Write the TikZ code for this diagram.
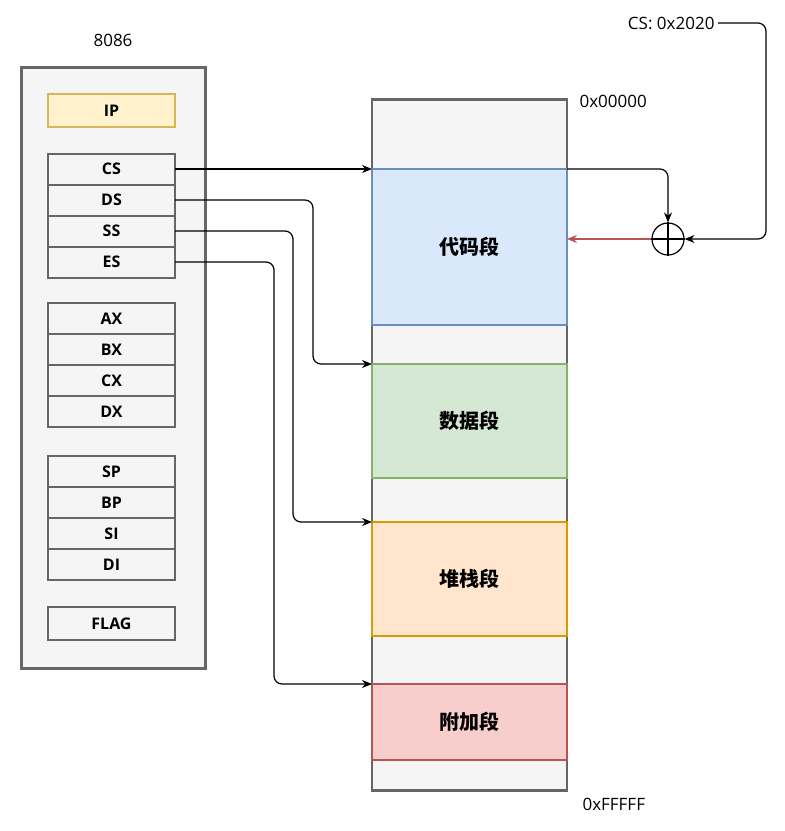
\documentclass[tikz,border=0pt]{standalone}
\usepackage{fontspec}
\setmainfont{Open Sans}
\newfontfamily\cjk{Noto Sans CJK SC}
\usetikzlibrary{arrows.meta, positioning}
\definecolor{panelgray}{HTML}{F5F5F5}
\definecolor{linegray}{HTML}{666666}
\definecolor{ipfill}{HTML}{FFF2CC}
\definecolor{ipline}{HTML}{D6B656}
\definecolor{codefill}{HTML}{DAE8FC}
\definecolor{codeline}{HTML}{6C8EBF}
\definecolor{datafill}{HTML}{D5E8D4}
\definecolor{dataline}{HTML}{82B366}
\definecolor{stackfill}{HTML}{FFE6CC}
\definecolor{stackline}{HTML}{D79B00}
\definecolor{extrafill}{HTML}{F8CECC}
\definecolor{extraline}{HTML}{B85450}
\tikzset{
	reg/.style={rectangle, draw=linegray, fill=panelgray, line width=2pt, outer sep=0pt,
		minimum width=127pt, minimum height=31pt, inner sep=0pt,
		font=\fontsize{16}{18}\selectfont\bfseries},
	seg/.style={rectangle, line width=2pt, outer sep=0pt, minimum width=195pt,
		font=\cjk\bfseries\fontsize{20}{22}\selectfont},
	arr/.style={-{Stealth[length=10pt, width=8pt]}, line width=1.2pt, rounded corners=8pt},
	redarr/.style={arr, draw=extraline, fill=extraline, line width=2pt},
	lbl/.style={font=\fontsize{17}{19}\selectfont},
}
\begin{document}
\begin{tikzpicture}[x=1pt, y=-1pt]
	\useasboundingbox (0,0) rectangle (785,831);
	% CPU registers
	\node[lbl] (title) at (113,40) {8086};
	\node[rectangle, draw=linegray, fill=panelgray, line width=2.5pt, minimum width=184pt,
		minimum height=601pt, anchor=north west] (cpu) at (20,66) {};
	\node[reg, fill=ipfill, draw=ipline, minimum height=33pt] (ip) at (111.5,110.5) {IP};
	\node[reg] (cs) at (111.5,169) {CS};
	\node[reg, below=0pt of cs] (ds) {DS};
	\node[reg, below=0pt of ds] (ss) {SS};
	\node[reg, below=0pt of ss] (es) {ES};
	\node[reg] (ax) at (111.5,318.5) {AX};
	\node[reg, below=0pt of ax] (bx) {BX};
	\node[reg, below=0pt of bx] (cx) {CX};
	\node[reg, below=0pt of cx] (dx) {DX};
	\node[reg] (sp) at (111.5,471.5) {SP};
	\node[reg, below=0pt of sp] (bp) {BP};
	\node[reg, below=0pt of bp] (si) {SI};
	\node[reg, below=0pt of si] (di) {DI};
	\node[reg, minimum height=33pt] (flag) at (111.5,623.5) {FLAG};
	
	% memory
	\node[rectangle, draw=linegray, fill=panelgray, line width=2.5pt, minimum width=195pt,
		minimum height=691pt, anchor=north] (ram) at (469.5,98) {};
	\node[seg, fill=codefill, draw=codeline, minimum height=156pt] (code) at (469.5,247) {代码段};
	\node[seg, fill=datafill, draw=dataline, minimum height=114pt] (data) at (469.5,421) {数据段};
	\node[seg, fill=stackfill, draw=stackline, minimum height=114pt] (stack) at (469.5,579) {堆栈段};
	\node[seg, fill=extrafill, draw=extraline, minimum height=76pt] (extra) at (469.5,722) {附加段};
	\node[lbl, anchor=west] (lo) at (576,101) {0x00000};
	\node[lbl, anchor=west] (hi) at (579,804) {0xFFFFF};
	
	% address adder
	\node[circle, draw, line width=1.2pt, minimum size=32pt] (sum) at (668,239) {};
	\draw[line width=1.2pt] (sum.north) -- (sum.south) (sum.west) -- (sum.east);
	\node[lbl, anchor=east] (csval) at (718,23) {CS: 0x2020};
	
	\draw[arr] (cs.east) -- (code.north west);
	\draw[arr] (ds.east) -- ++(138,0) |- (data.north west);
	\draw[arr] (ss.east) -- ++(118,0) |- (stack.north west);
	\draw[arr] (es.east) -- ++(99,0) |- (extra.north west);
	\draw[arr] (code.north east) -| (sum.north);
	\draw[arr] (csval.east) -- ++(48,0) |- (sum.east);
	\draw[redarr] (sum.west) -- (sum.west -| code.east);
\end{tikzpicture}
\end{document}
